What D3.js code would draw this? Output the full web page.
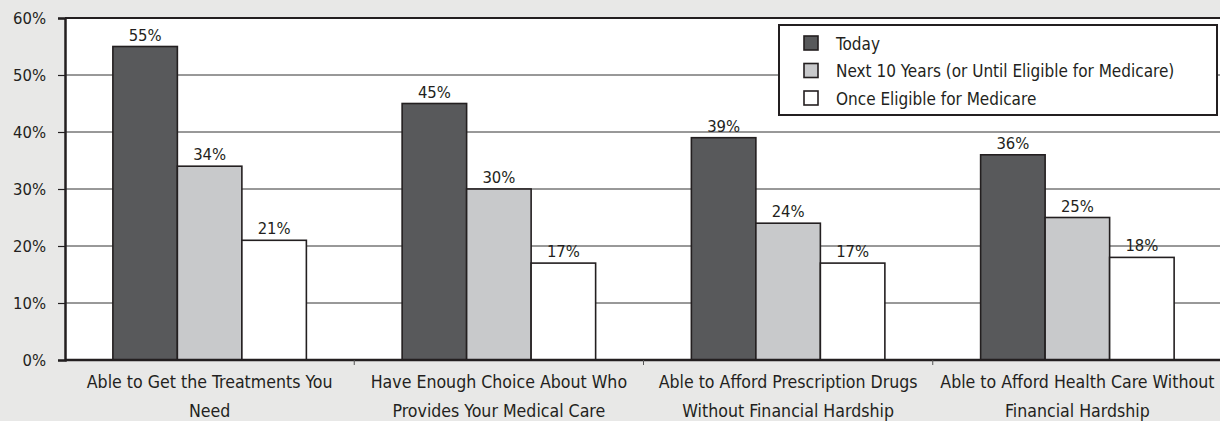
<!DOCTYPE html>
<html>
<head>
<meta charset="utf-8">
<script src="https://cdn.jsdelivr.net/npm/d3@7/dist/d3.min.js"></script>
<style>
  html, body { margin: 0; padding: 0; background: #e8e8e7; }
  svg { display: block; }
  text { font-family: "Liberation Sans Narrow", "DejaVu Sans Condensed", "Liberation Sans", sans-serif; fill: #231f20; }
</style>
</head>
<body>
<svg id="chart" width="1220" height="421"></svg>
<script>
// Survey categories (two-line labels) and the three time-horizon series
const categories = [
  ["Able to Get the Treatments You", "Need"],
  ["Have Enough Choice About Who", "Provides Your Medical Care"],
  ["Able to Afford Prescription Drugs", "Without Financial Hardship"],
  ["Able to Afford Health Care Without", "Financial Hardship"]
];
const seriesNames = ["Today", "Next 10 Years (or Until Eligible for Medicare)", "Once Eligible for Medicare"];
const today      = [55, 45, 39, 36];
const next10     = [34, 30, 24, 25];
const onceMedicare = [21, 17, 17, 18];
const yTicks = [0, 10, 20, 30, 40, 50, 60];
const seriesColors = ["#58595b", "#c8c9cb", "#ffffff"];

const seriesValues = [today, next10, onceMedicare];
const svg = d3.select("#chart");
const W = 1220, H = 421;
const margin = { left: 65, right: -2, top: 18, bottom: 61 };
const plotW = W - margin.left - margin.right;
const plotH = H - margin.top - margin.bottom;

const g = svg.append("g").attr("transform", `translate(${margin.left},${margin.top})`);

const x0 = d3.scaleBand().domain(d3.range(categories.length)).range([0, plotW]).paddingInner(0).paddingOuter(0);
const barW = 64.5;
const x1 = d3.scaleBand().domain(d3.range(seriesNames.length))
  .range([x0.bandwidth() / 2 - barW * 1.5, x0.bandwidth() / 2 + barW * 1.5]);
const y = d3.scaleLinear().domain([0, 60]).range([plotH, 0]);

// white plot background
g.append("rect").attr("x", 0).attr("y", 0).attr("width", plotW).attr("height", plotH).attr("fill", "#fff");

// gridlines
g.append("g").selectAll("line").data(yTicks.filter(t => t > 0 && t < 60)).join("line")
  .attr("x1", 0).attr("x2", plotW)
  .attr("y1", d => y(d)).attr("y2", d => y(d))
  .attr("stroke", "#333").attr("stroke-width", 1);

// top border
g.append("line").attr("x1", 0).attr("x2", plotW).attr("y1", y(60)).attr("y2", y(60))
  .attr("stroke", "#231f20").attr("stroke-width", 2);

// bars
const groups = g.append("g").selectAll("g").data(categories).join("g")
  .attr("transform", (d, i) => `translate(${x0(i)},0)`);
groups.each(function(c, ci) {
  const gg = d3.select(this);
  seriesValues.forEach((vals, si) => {
    gg.append("rect")
      .attr("x", x1(si)).attr("width", x1.bandwidth())
      .attr("y", y(vals[ci])).attr("height", y(0) - y(vals[ci]))
      .attr("fill", seriesColors[si]).attr("stroke", "#231f20").attr("stroke-width", 1.6);
    gg.append("text")
      .attr("x", x1(si) + x1.bandwidth() / 2).attr("y", y(vals[ci]) - 6)
      .attr("text-anchor", "middle").attr("font-size", 16.5)
      .text(vals[ci] + "%");
  });
});

// y axis
const yAxis = g.append("g").call(d3.axisLeft(y).tickValues(yTicks).tickFormat(d => d + "%").tickSize(7).tickPadding(12));
yAxis.select(".domain").attr("stroke", "#231f20").attr("stroke-width", 2.5);
yAxis.selectAll(".tick line").attr("stroke", "#231f20").attr("stroke-width", 1.2);
yAxis.selectAll("text").attr("font-size", 16.5).attr("fill", "#231f20")
  .style("font-family", '"Liberation Sans Narrow", "DejaVu Sans Condensed", sans-serif');

// x axis with ticks at category boundaries
const xAxisG = g.append("g").attr("transform", `translate(0,${plotH})`);
xAxisG.append("line").attr("x1", 0).attr("x2", plotW).attr("y1", 0).attr("y2", 0)
  .attr("stroke", "#231f20").attr("stroke-width", 2.5);
xAxisG.selectAll("line.sep").data(d3.range(1, categories.length)).join("line")
  .attr("class", "sep")
  .attr("x1", d => x0(d)).attr("x2", d => x0(d)).attr("y1", 0).attr("y2", 5)
  .attr("stroke", "#555").attr("stroke-width", 1);
xAxisG.selectAll("text.cat").data(categories).join("text")
  .attr("class", "cat")
  .attr("text-anchor", "middle").attr("font-size", 17.6)
  .attr("x", (d, i) => x0(i) + x0.bandwidth() / 2)
  .each(function(lines) {
    d3.select(this).selectAll("tspan").data(lines).join("tspan")
      .attr("x", d3.select(this).attr("x"))
      .attr("y", (d, k) => 27.5 + k * 29)
      .text(d => d);
  });

// legend
const leg = svg.append("g").attr("transform", "translate(779,25)");
leg.append("rect").attr("x", 0).attr("y", 0).attr("width", 438).attr("height", 90)
  .attr("fill", "#fff").attr("stroke", "#231f20").attr("stroke-width", 2);
seriesNames.forEach((name, i) => {
  const row = leg.append("g").attr("transform", `translate(0,${18 + i * 27.5})`);
  row.append("rect").attr("x", 25).attr("y", -7).attr("width", 14).attr("height", 14)
    .attr("fill", seriesColors[i]).attr("stroke", "#231f20").attr("stroke-width", 1.6);
  row.append("text").attr("x", 57).attr("y", 6.5).attr("font-size", 17).text(name);
});
</script>
</body>
</html>
